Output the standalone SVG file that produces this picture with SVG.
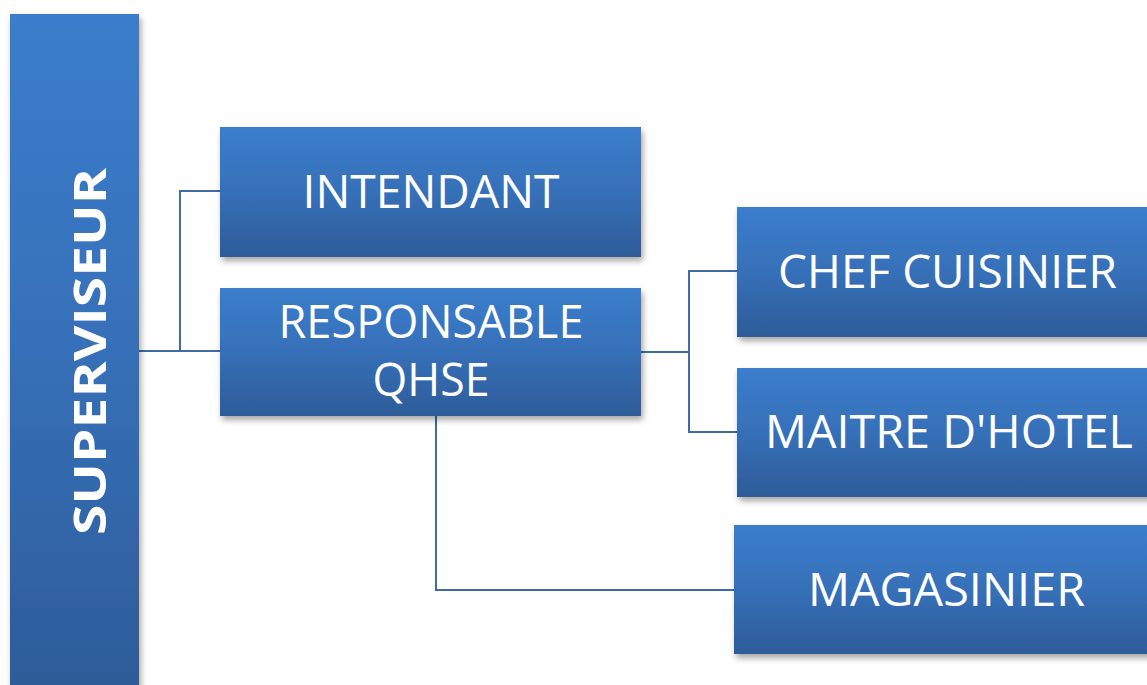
<svg xmlns="http://www.w3.org/2000/svg" width="1147" height="685" viewBox="0 0 1147 685">
<defs>
<linearGradient id="g" x1="0" y1="0" x2="0" y2="1">
<stop offset="0" stop-color="#3b7dcc"/>
<stop offset="0.5" stop-color="#3670b8"/>
<stop offset="1" stop-color="#2d5c99"/>
</linearGradient>
<filter id="sh" x="-10%" y="-10%" width="130%" height="130%">
<feDropShadow dx="2" dy="4" stdDeviation="3" flood-color="#000" flood-opacity="0.35"/>
</filter>
<style>
.box{fill:url(#g);filter:url(#sh)}
.t{font-family:"Open Sans","Liberation Sans",sans-serif;fill:#fff;font-size:45px;text-anchor:middle}
.c{fill:none;stroke:#3f6aa3;stroke-width:2}
</style>
</defs>
<g id="connectors">
<polyline class="c" points="139,351 220,351"/>
<polyline class="c" points="220,191 180,191 180,351"/>
<polyline class="c" points="641,352 689,352"/>
<polyline class="c" points="737,271 689,271 689,432 737,432"/>
<polyline class="c" points="436,416 436,590 734,590"/>
</g>
<g id="superviseur">
<rect class="box" x="10" y="14" width="129" height="680"/>
<text class="t" font-weight="bold" transform="translate(106,351.5) rotate(-90)" textLength="367" lengthAdjust="spacingAndGlyphs" font-size="62">SUPERVISEUR</text>
</g>
<g id="intendant">
<rect class="box" x="220" y="127" width="421" height="130"/>
<text class="t" x="431" y="208" textLength="257" lengthAdjust="spacingAndGlyphs">INTENDANT</text>
</g>
<g id="qhse">
<rect class="box" x="220" y="288" width="421" height="128"/>
<text class="t" x="431" y="338" textLength="305" lengthAdjust="spacingAndGlyphs">RESPONSABLE</text>
<text class="t" x="431" y="396" textLength="117" lengthAdjust="spacingAndGlyphs">QHSE</text>
</g>
<g id="chef">
<rect class="box" x="737" y="207" width="415" height="130"/>
<text class="t" x="947.5" y="288" textLength="339" lengthAdjust="spacingAndGlyphs">CHEF CUISINIER</text>
</g>
<g id="maitre">
<rect class="box" x="737" y="368" width="415" height="129"/>
<text class="t" x="949" y="448" textLength="368" lengthAdjust="spacingAndGlyphs">MAITRE D'HOTEL</text>
</g>
<g id="magasinier">
<rect class="box" x="734" y="525" width="418" height="129"/>
<text class="t" x="946.5" y="606" textLength="277" lengthAdjust="spacingAndGlyphs">MAGASINIER</text>
</g>
</svg>
